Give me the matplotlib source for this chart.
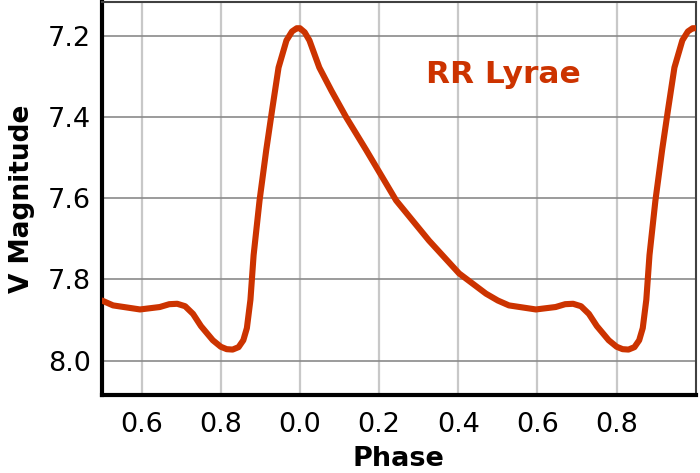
import matplotlib.pyplot as plt
import numpy as np

# One pulsation cycle of the RR Lyrae light curve (phase, V magnitude)
phase = [0.000, 0.012, 0.024, 0.049, 0.080, 0.117, 0.167, 0.243, 0.326,
         0.402, 0.470, 0.500, 0.528, 0.596, 0.646, 0.670, 0.690, 0.710,
         0.730, 0.750, 0.780, 0.800, 0.815, 0.830, 0.845, 0.857, 0.866,
         0.875, 0.883, 0.898, 0.915, 0.930, 0.946, 0.966, 0.980, 0.992, 1.000]
vmag = [7.180, 7.190, 7.210, 7.277, 7.335, 7.400, 7.480, 7.605, 7.704,
        7.785, 7.835, 7.852, 7.864, 7.874, 7.868, 7.861, 7.860, 7.866,
        7.885, 7.915, 7.950, 7.966, 7.972, 7.973, 7.967, 7.950, 7.920,
        7.850, 7.740, 7.605, 7.480, 7.380, 7.277, 7.210, 7.188, 7.180, 7.180]

xtick_pos = [0.6, 0.8, 1.0, 1.2, 1.4, 1.6, 1.8]
xtick_labels = ['0.6', '0.8', '0.0', '0.2', '0.4', '0.6', '0.8']
ytick_vals = [7.2, 7.4, 7.6, 7.8, 8.0]

red = '#cc3300'

phase = np.array(phase)
vmag = np.array(vmag)
# second half of a cycle, then a full cycle shifted by one
half = phase >= 0.5
x = np.concatenate([phase[half], phase[1:] + 1.0])
y = np.concatenate([vmag[half], vmag[1:]])

fig = plt.figure(figsize=(7, 4.73), dpi=100)
ax = fig.add_axes([0.1457, 0.165, 0.8483, 0.831])

ax.plot(x, y, color=red, lw=4.4, solid_joinstyle='round', solid_capstyle='round', zorder=3)

ax.set_xlim(0.5, 2.0)
ax.set_ylim(8.085, 7.115)

ax.set_xticks(xtick_pos, xtick_labels)
ax.set_yticks(ytick_vals, [f'{v:.1f}' for v in ytick_vals])
ax.tick_params(axis='both', length=0, labelsize=19.5)
ax.tick_params(axis='x', pad=12)
ax.tick_params(axis='y', pad=8)

for xv in xtick_pos:
    ax.axvline(xv, color='#c8c8c8', lw=1.6, zorder=1)
for yv in ytick_vals:
    ax.axhline(yv, color='#8a8a8a', lw=1.2, zorder=1)

for side in ['left', 'bottom']:
    ax.spines[side].set_linewidth(3.0)
    ax.spines[side].set_color('black')
for side in ['top', 'right']:
    ax.spines[side].set_linewidth(1.5)
    ax.spines[side].set_color('#404040')

ax.set_xlabel('Phase', fontsize=19.5, fontweight='bold', labelpad=6)
ax.set_ylabel('V Magnitude', fontsize=19, fontweight='bold', labelpad=9)

ax.text(1.515, 7.294, 'RR Lyrae', color=red, fontsize=22.5, fontweight='bold',
        ha='center', va='center')

fig.savefig('out.png', dpi=100)
